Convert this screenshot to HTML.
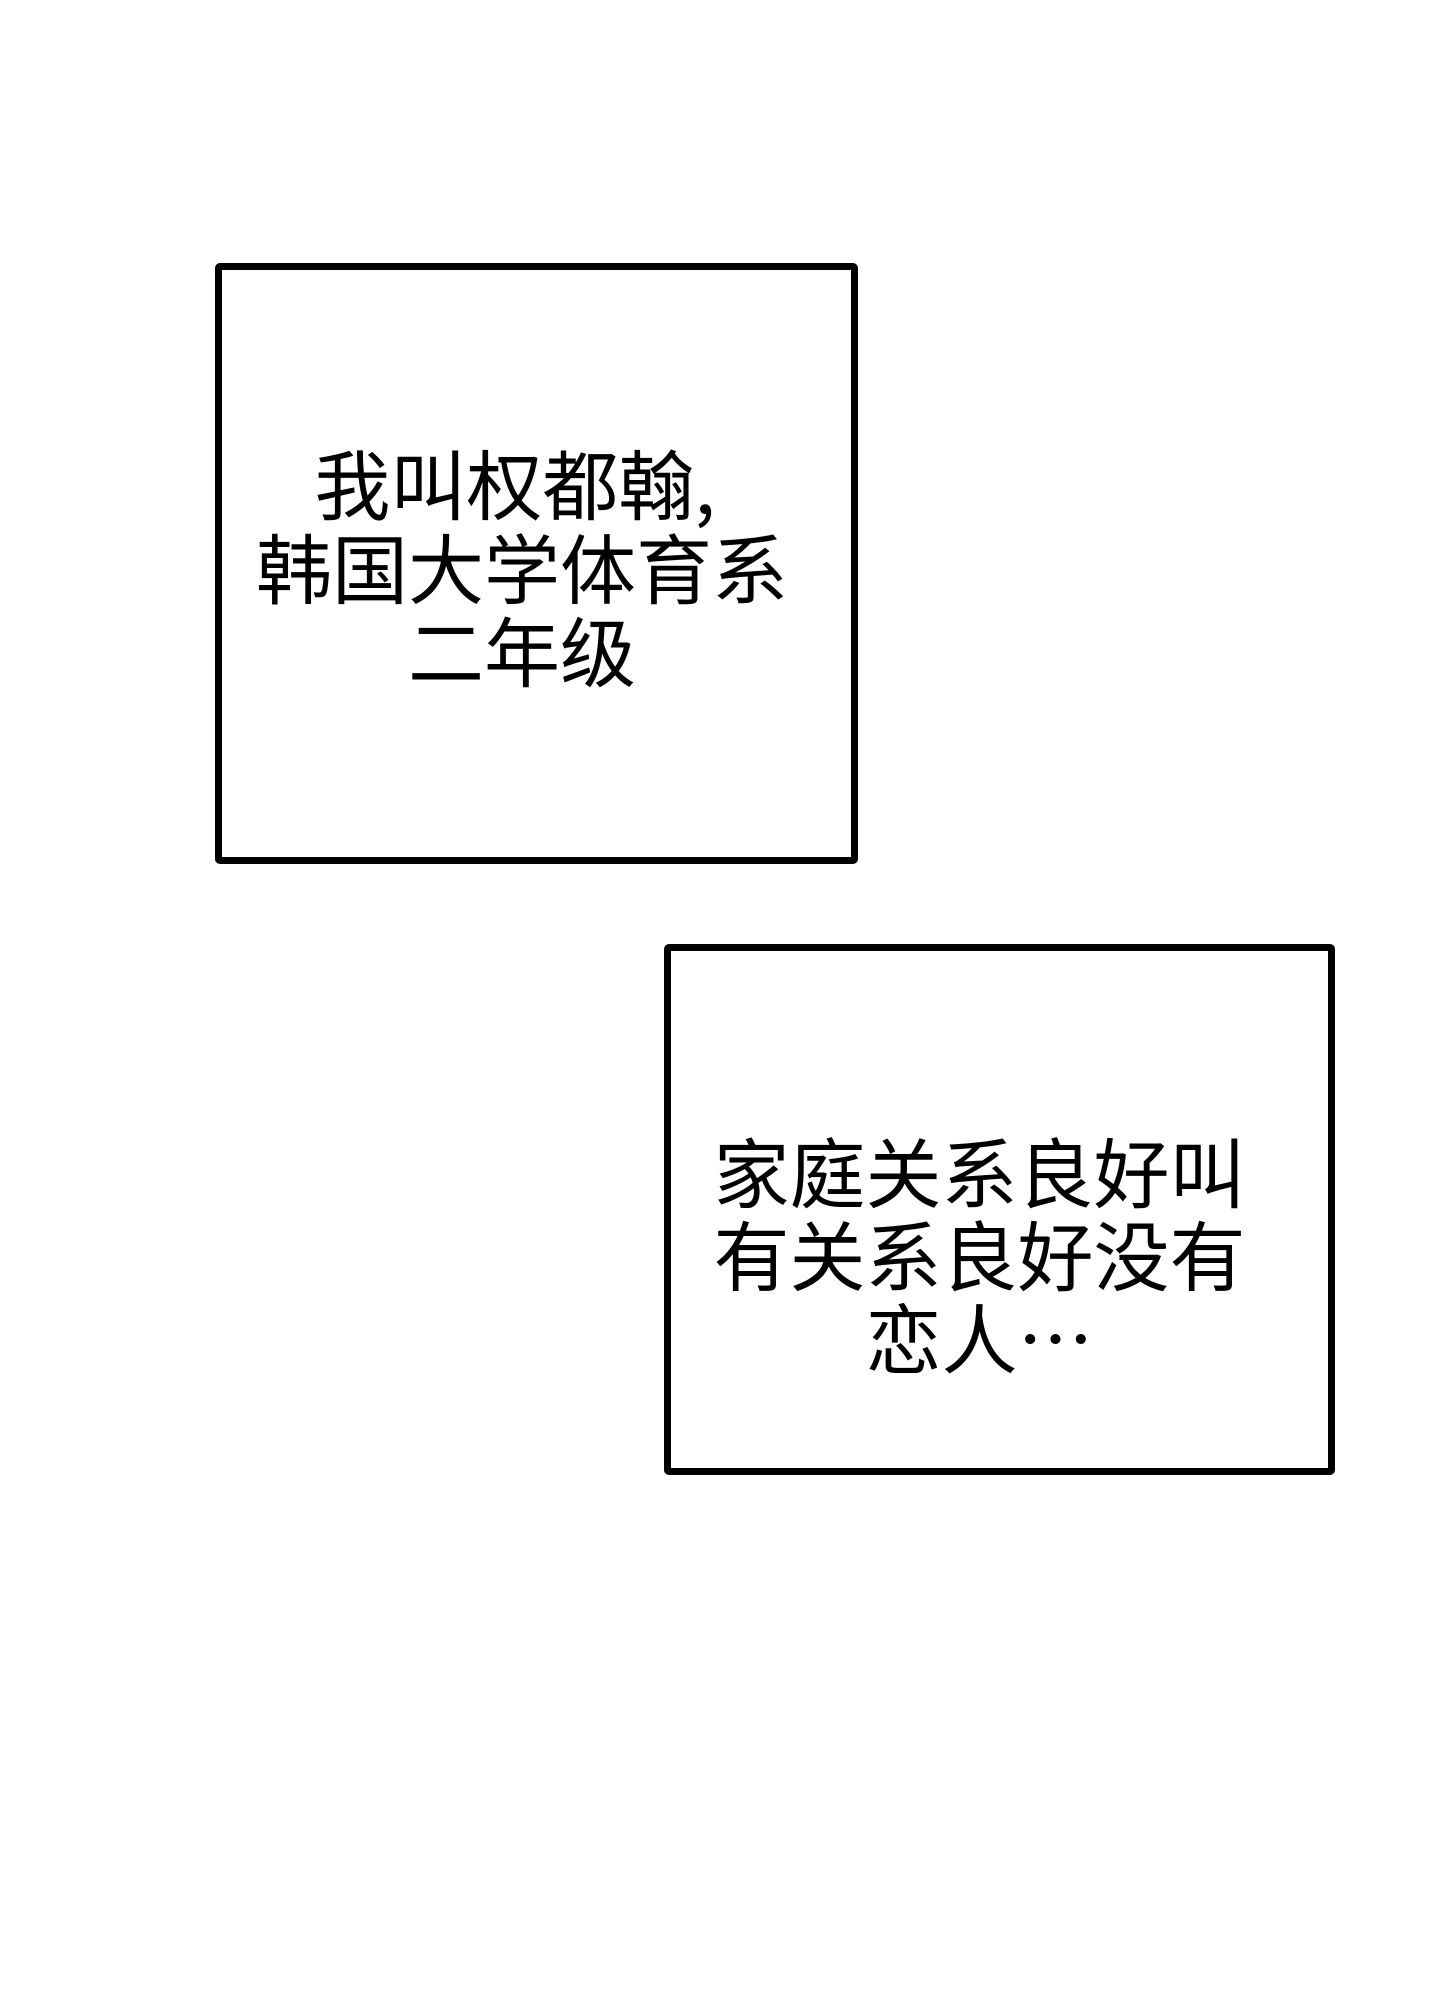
<!DOCTYPE html>
<html><head><meta charset="utf-8"><style>
html,body{margin:0;padding:0;background:#fff;}
body{width:1440px;height:2000px;position:relative;overflow:hidden;font-family:"Liberation Sans","Noto Sans CJK SC",sans-serif;color:#000;}
.box{position:absolute;border:7px solid #000;border-radius:5px;box-sizing:border-box;background:#fff;}
.t{position:absolute;text-align:center;font-size:76px;line-height:83px;white-space:nowrap;font-weight:400;font-family:"Noto Sans CJK SC",sans-serif;}
</style></head><body>
<div class="box" style="left:215px;top:263px;width:643px;height:601px;"></div>
<div class="t" style="left:208px;width:614px;top:440px;">我叫权都翰,</div>
<div class="t" style="left:215px;width:614px;top:524px;">韩国大学体育系</div>
<div class="t" style="left:215px;width:614px;top:607px;">二年级</div>
<div class="box" style="left:664px;top:944px;width:671px;height:531px;"></div>
<div class="t" style="left:664px;width:631px;top:1128px;">家庭关系良好叫</div>
<div class="t" style="left:664px;width:631px;top:1211px;">有关系良好没有</div>
<div class="t" style="left:664px;width:631px;top:1294px;">恋人⋯</div>
</body></html>
